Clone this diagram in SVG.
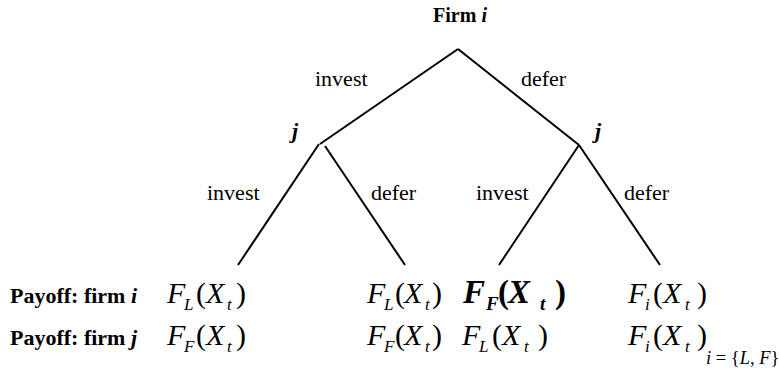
<svg xmlns="http://www.w3.org/2000/svg" width="779" height="375" viewBox="0 0 779 375">
<style>
text{font-family:"Liberation Serif","Times New Roman",serif;fill:#000}
.lbl{font-size:22px}
.b{font-weight:bold;font-size:22px}
.bi{font-weight:bold;font-style:italic}
.it{font-style:italic}
.m{font-size:30px}
.s{font-size:17px;font-style:italic}
.mb{font-size:33px;font-weight:bold}
.sb{font-size:19px;font-weight:bold;font-style:italic}
line{stroke:#000;stroke-width:2;stroke-linecap:butt}
</style>
<rect width="779" height="375" fill="#fff"/>
<g id="connectors">
<line x1="458" y1="49" x2="320" y2="144"/>
<line x1="458" y1="49" x2="579" y2="145"/>
<line x1="319" y1="144" x2="238" y2="265"/>
<line x1="325" y1="146" x2="405" y2="265"/>
<line x1="579" y1="145" x2="499" y2="265"/>
<line x1="579" y1="145" x2="660" y2="265"/>
</g>
<g id="root"><text x="460" y="22" class="b" text-anchor="middle" style="font-size:20px">Firm <tspan class="bi">i</tspan></text></g>
<g id="edge-labels">
<text x="315" y="86" class="lbl">invest</text>
<text x="521" y="86" class="lbl">defer</text>
<text x="207" y="200" class="lbl">invest</text>
<text x="371" y="200" class="lbl">defer</text>
<text x="476" y="200" class="lbl">invest</text>
<text x="624" y="200" class="lbl">defer</text>
</g>
<g id="node-j-left"><text x="292" y="138" class="lbl bi">j</text></g>
<g id="node-j-right"><text x="595" y="138" class="lbl bi">j</text></g>
<g id="row-labels">
<text x="10" y="303" class="b">Payoff: firm <tspan class="bi">i</tspan></text>
<text x="10" y="345" class="b">Payoff: firm <tspan class="bi">j</tspan></text>
</g>
<g id="payoff-1">
<text y="303" class="m"><tspan x="167" class="it">F</tspan><tspan x="184" dy="7" class="s">L</tspan><tspan x="196" dy="-7">(</tspan><tspan x="206" class="it">X</tspan><tspan x="227" dy="7" class="s">t</tspan><tspan x="236" dy="-7">)</tspan></text>
<text y="345" class="m"><tspan x="167" class="it">F</tspan><tspan x="184" dy="7" class="s">F</tspan><tspan x="196" dy="-7">(</tspan><tspan x="206" class="it">X</tspan><tspan x="227" dy="7" class="s">t</tspan><tspan x="236" dy="-7">)</tspan></text>
</g>
<g id="payoff-2">
<text y="303" class="m"><tspan x="367" class="it">F</tspan><tspan x="384" dy="7" class="s">L</tspan><tspan x="395" dy="-7">(</tspan><tspan x="404" class="it">X</tspan><tspan x="425" dy="7" class="s">t</tspan><tspan x="432" dy="-7">)</tspan></text>
<text y="345" class="m"><tspan x="367" class="it">F</tspan><tspan x="384" dy="7" class="s">F</tspan><tspan x="395" dy="-7">(</tspan><tspan x="404" class="it">X</tspan><tspan x="425" dy="7" class="s">t</tspan><tspan x="432" dy="-7">)</tspan></text>
</g>
<g id="payoff-3">
<text y="303" class="mb"><tspan x="463" class="it">F</tspan><tspan x="486" dy="7" class="sb">F</tspan><tspan x="498" dy="-7">(</tspan><tspan x="508" class="it">X</tspan><tspan x="540" dy="7" class="sb">t</tspan><tspan x="555" dy="-7">)</tspan></text>
<text y="345" class="m"><tspan x="462" class="it">F</tspan><tspan x="479" dy="7" class="s">L</tspan><tspan x="492" dy="-7">(</tspan><tspan x="502" class="it">X</tspan><tspan x="524" dy="7" class="s">t</tspan><tspan x="538" dy="-7">)</tspan></text>
</g>
<g id="payoff-4">
<text y="303" class="m"><tspan x="628" class="it">F</tspan><tspan x="645" dy="7" class="s">i</tspan><tspan x="653" dy="-7">(</tspan><tspan x="663" class="it">X</tspan><tspan x="685" dy="7" class="s">t</tspan><tspan x="697" dy="-7">)</tspan></text>
<text y="345" class="m"><tspan x="628" class="it">F</tspan><tspan x="645" dy="7" class="s">i</tspan><tspan x="653" dy="-7">(</tspan><tspan x="663" class="it">X</tspan><tspan x="685" dy="7" class="s">t</tspan><tspan x="697" dy="-7">)</tspan></text>
<text x="706" y="364" style="font-size:18.5px"><tspan class="it">i</tspan> = {<tspan class="it">L</tspan>, <tspan class="it">F</tspan>}</text>
</g>
</svg>
